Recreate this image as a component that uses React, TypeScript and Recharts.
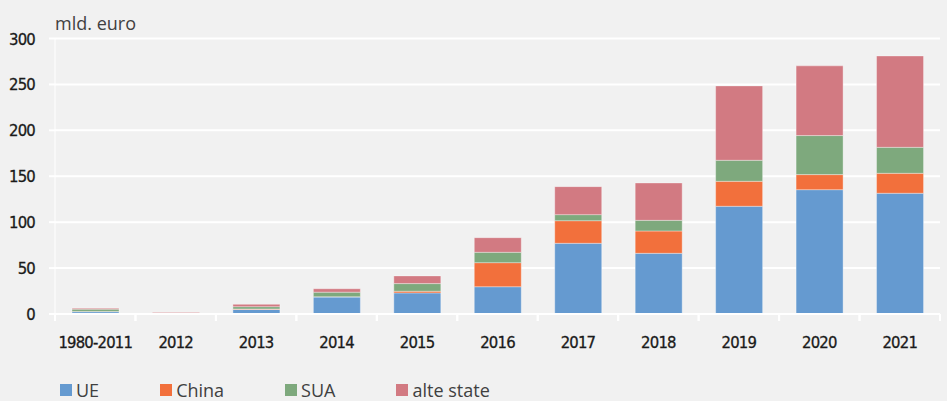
import React from 'react';
import { BarChart, Bar, XAxis, YAxis, CartesianGrid } from 'recharts';

const categories = ['1980-2011', '2012', '2013', '2014', '2015', '2016', '2017', '2018', '2019', '2020', '2021'];
const ue = [2.5, 0.4, 5, 18.5, 23, 29.7, 77, 66.1, 117.3, 135.4, 131.5];
const china = [0.3, 0.1, 0.5, 0.3, 1.8, 26.2, 24.6, 24.3, 27.2, 16.4, 21.7];
const sua = [2.5, 0.2, 2.5, 5, 8.3, 11.3, 6.6, 11.6, 22.9, 42.5, 28.3];
const alte = [1.0, 0.8, 2.5, 3.7, 8.4, 15.9, 30.5, 40.7, 81, 75.9, 99.5];
const yTicks = [0, 50, 100, 150, 200, 250, 300];

const seriesNames = ['UE', 'China', 'SUA', 'alte state'];
const seriesKeys = ['ue', 'china', 'sua', 'alte'];
const colors = ['#659ad0', '#f2703c', '#7ea97d', '#d27a82'];

const data = categories.map((c, i) => ({
  cat: c,
  ue: ue[i],
  china: china[i],
  sua: sua[i],
  alte: alte[i],
}));

const tickFont = "'Liberation Sans Narrow', 'DejaVu Sans Condensed', 'Arial Narrow', sans-serif";
const textFont = "'Open Sans', 'Noto Sans', sans-serif";

const XTick = (props: any) => {
  const { x, y, payload, width, visibleTicksCount } = props;
  const band = width && visibleTicksCount ? width / visibleTicksCount : 80.45;
  return (
    <g>
      <line x1={x - band / 2} x2={x - band / 2} y1={y} y2={y + 7} stroke="#ffffff" strokeWidth={2} />
      <line x1={x + band / 2} x2={x + band / 2} y1={y} y2={y + 7} stroke="#ffffff" strokeWidth={2} />
      <text
        x={x}
        y={y + 33.5}
        textAnchor="middle"
        fill="#1a1a1a"
        stroke="#1a1a1a"
        strokeWidth={0.3}
        fontSize={16.5}
        letterSpacing={-0.8}
        fontFamily={tickFont}
      >
        {payload.value}
      </text>
    </g>
  );
};

const YTick = (props: any) => {
  const { x, y, payload } = props;
  return (
    <text
      x={x}
      y={y + 6}
      textAnchor="end"
      fill="#1a1a1a"
      stroke="#1a1a1a"
      strokeWidth={0.3}
      fontSize={16.5}
      letterSpacing={-0.8}
      fontFamily={tickFont}
    >
      {payload.value}
    </text>
  );
};

export default function App() {
  return (
    <div style={{ position: 'fixed', left: 0, top: 0, width: 947, height: 401, background: '#f1f1f1', overflow: 'hidden' }}>
      <div style={{ position: 'absolute', left: 55, top: 11, fontFamily: textFont, fontSize: 18, color: '#404040' }}>mld. euro</div>
      <BarChart
        width={947}
        height={401}
        data={data}
        margin={{ top: 38.5, right: 7, left: 0, bottom: 0 }}
        barSize={47}
      >
        <CartesianGrid vertical={false} stroke="#ffffff" strokeWidth={2} />
        <YAxis
          domain={[0, 300]}
          ticks={yTicks}
          width={55}
          axisLine={{ stroke: '#ffffff', strokeWidth: 1 }}
          tickLine={{ stroke: '#ffffff', strokeWidth: 2 }}
          tickSize={6}
          tickMargin={14}
          tick={<YTick />}
        />
        <XAxis
          dataKey="cat"
          height={87}
          axisLine={{ stroke: '#ffffff', strokeWidth: 2 }}
          tickLine={false}
          tickSize={0}
          tickMargin={0}
          interval={0}
          tick={<XTick />}
        />
        {seriesKeys.map((k, i) => (
          <Bar
            key={k}
            dataKey={k}
            name={seriesNames[i]}
            stackId="a"
            fill={colors[i]}
            stroke="rgba(255,255,255,0.35)"
            strokeWidth={1}
            isAnimationActive={false}
          />
        ))}
      </BarChart>
      <div style={{ position: 'absolute', left: 60, top: 378, display: 'flex', alignItems: 'center', gap: 61, fontFamily: textFont, fontSize: 18, color: '#404040' }}>
        {seriesNames.map((n, i) => (
          <div key={n} style={{ display: 'flex', alignItems: 'center' }}>
            <span style={{ display: 'inline-block', width: 12, height: 12, background: colors[i], marginRight: 4 }} />
            <span>{n}</span>
          </div>
        ))}
      </div>
    </div>
  );
}
